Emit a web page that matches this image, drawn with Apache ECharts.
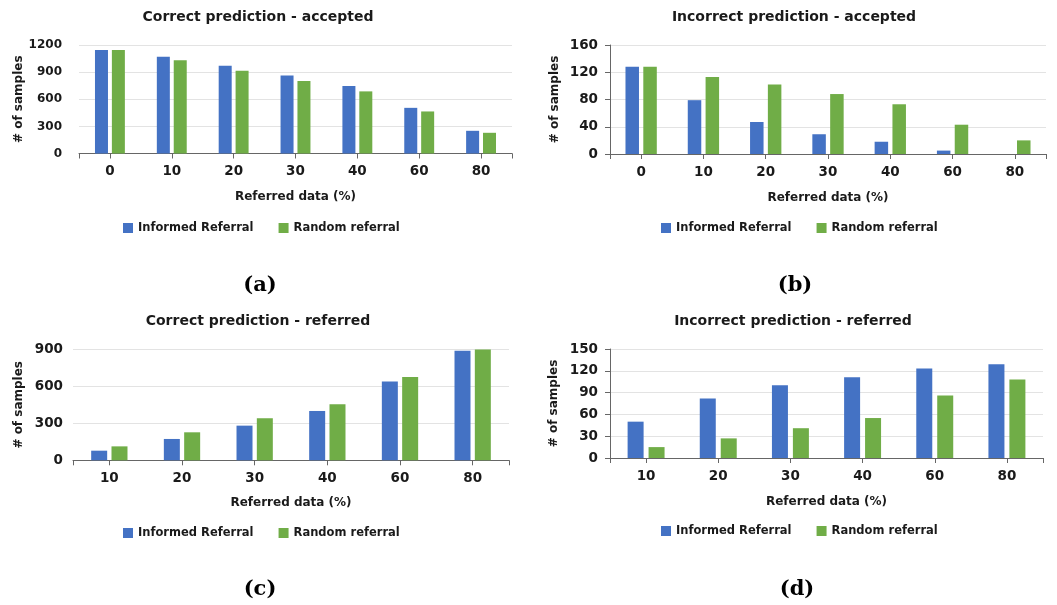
<!DOCTYPE html>
<html>
<head>
<meta charset="utf-8">
<script src="https://cdn.jsdelivr.net/npm/echarts@6/dist/echarts.min.js"></script>
<style>
html,body{margin:0;padding:0;background:#fff;}
#main{width:1057px;height:605px;}
</style>
</head>
<body>
<div id="main"></div>
<script>
// ---- data ----
var catsAccepted = ['0', '10', '20', '30', '40', '60', '80'];
var catsReferred = ['10', '20', '30', '40', '60', '80'];
var seriesNames = ['Informed Referral', 'Random referral'];

var correctAcceptedInformed = [1145, 1070, 970, 864, 746, 505, 251];
var correctAcceptedRandom   = [1145, 1030, 915, 801, 687, 465, 229];
var incorrectAcceptedInformed = [128, 79, 47, 29, 18, 5, 0];
var incorrectAcceptedRandom   = [128, 113, 102, 88, 73, 43, 20];
var correctReferredInformed = [78, 173, 281, 400, 638, 889];
var correctReferredRandom   = [113, 227, 341, 454, 676, 898];
var incorrectReferredInformed = [50, 82, 100, 111, 123, 129];
var incorrectReferredRandom   = [15, 27, 41, 55, 86, 108];

var titles = ['Correct prediction - accepted', 'Incorrect prediction - accepted',
              'Correct prediction - referred', 'Incorrect prediction - referred'];
var captions = ['(a)', '(b)', '(c)', '(d)'];
var yMax = [1200, 160, 900, 150];
var yInterval = [300, 40, 300, 30];
var xAxisName = 'Referred data (%)';
var yAxisName = '# of samples';

// ---- layout ----
var FONT = 'DejaVu Sans';
var TXT = '#1a1a1a';
var AXIS = '#666666';
var BLUE = '#4472C4';
var GREEN = '#70AD47';

var panels = [
  {cats: catsAccepted, a: correctAcceptedInformed, b: correctAcceptedRandom,
   grid: {left: 79, top: 45, width: 433, height: 108.5}, yLine: false, yMargin: 17, yNameGap: 51, yFont: 12,
   barW: 13, gap: '30%', titleX: 258, titleY: 10, legX: 123, legY: 222, capX: 260, capY: 286, xMargin: 11, xNameGap: 37},
  {cats: catsAccepted, a: incorrectAcceptedInformed, b: incorrectAcceptedRandom,
   grid: {left: 610, top: 45, width: 436, height: 109}, yLine: true, yMargin: 12, yNameGap: 49, yFont: 13.5,
   barW: 13.5, gap: '32%', titleX: 794, titleY: 10, legX: 661, legY: 222, capX: 795, capY: 286, xMargin: 11, xNameGap: 37.5},
  {cats: catsReferred, a: correctReferredInformed, b: correctReferredRandom,
   grid: {left: 73, top: 349.3, width: 436, height: 111}, yLine: false, yMargin: 10, yNameGap: 48, yFont: 13.5,
   barW: 16, gap: '27%', titleX: 258, titleY: 314, legX: 123, legY: 527, capX: 260, capY: 590, xMargin: 11, xNameGap: 37},
  {cats: catsReferred, a: incorrectReferredInformed, b: incorrectReferredRandom,
   grid: {left: 610, top: 349, width: 433, height: 109}, yLine: true, yMargin: 12, yNameGap: 50, yFont: 13.5,
   barW: 16, gap: '31%', titleX: 793, titleY: 314, legX: 661, legY: 525, capX: 797, capY: 590, xMargin: 11, xNameGap: 38}
];

var option = {
  backgroundColor: '#ffffff',
  animation: false,
  title: [], legend: [], grid: [], xAxis: [], yAxis: [], series: [], graphic: []
};

panels.forEach(function (p, i) {
  option.title.push({
    text: titles[i], left: p.titleX, top: p.titleY, textAlign: 'center', padding: 0,
    textStyle: {fontFamily: FONT, fontWeight: 'bold', fontSize: 14, color: TXT}
  });
  option.legend.push({
    left: p.legX, top: p.legY, padding: 0, itemWidth: 10, itemHeight: 10, itemGap: 25,
    icon: 'rect', data: seriesNames.slice(),
    textStyle: {fontFamily: FONT, fontWeight: 'bold', fontSize: 11.5, color: TXT},
    selectedMode: false
  });
  option.grid.push(Object.assign({containLabel: false}, p.grid));
  // category axis
  option.xAxis.push({
    type: 'category', gridIndex: i, data: p.cats,
    name: xAxisName, nameLocation: 'middle', nameGap: p.xNameGap,
    nameTextStyle: {fontFamily: FONT, fontWeight: 'bold', fontSize: 12, color: TXT},
    axisLine: {show: true, lineStyle: {color: AXIS, width: 1}},
    axisTick: {show: true, alignWithLabel: true, length: 5, lineStyle: {color: AXIS}},
    axisLabel: {fontFamily: FONT, fontWeight: 'bold', fontSize: 13.5, color: TXT, margin: p.xMargin},
    splitLine: {show: false}
  });
  // helper axis for ticks at both ends of the category axis
  option.xAxis.push({
    type: 'value', gridIndex: i, min: 0, max: 1, interval: 1, position: 'bottom',
    axisLine: {show: false}, axisLabel: {show: false}, splitLine: {show: false},
    axisTick: {show: true, length: 5, lineStyle: {color: AXIS}}
  });
  option.yAxis.push({
    type: 'value', gridIndex: i, min: 0, max: yMax[i], interval: yInterval[i],
    name: yAxisName, nameLocation: 'middle', nameGap: p.yNameGap, nameRotate: 90,
    nameTextStyle: {fontFamily: FONT, fontWeight: 'bold', fontSize: 12, color: TXT},
    axisLine: {show: p.yLine, lineStyle: {color: AXIS, width: 1}},
    axisTick: {show: p.yLine, length: 5, lineStyle: {color: AXIS}},
    axisLabel: {fontFamily: FONT, fontWeight: 'bold', fontSize: p.yFont, color: TXT, margin: p.yMargin,
                formatter: function (v) { return String(v); }},
    splitLine: {show: true, lineStyle: {color: '#e3e3e3', width: 1}}
  });
  option.series.push({
    type: 'bar', name: seriesNames[0], xAxisIndex: i * 2, yAxisIndex: i,
    data: p.a, barWidth: p.barW, barGap: p.gap, itemStyle: {color: BLUE}
  });
  option.series.push({
    type: 'bar', name: seriesNames[1], xAxisIndex: i * 2, yAxisIndex: i,
    data: p.b, barWidth: p.barW, barGap: p.gap, itemStyle: {color: GREEN}
  });
  option.graphic.push({
    type: 'text', x: p.capX, y: p.capY,
    style: {text: captions[i], fontFamily: 'DejaVu Serif', fontWeight: 'bold', fontSize: 21,
            fill: '#000', align: 'center', verticalAlign: 'middle'}
  });
});

var chart = echarts.init(document.getElementById('main'), null, {renderer: 'canvas'});
chart.setOption(option);
</script>
</body>
</html>
